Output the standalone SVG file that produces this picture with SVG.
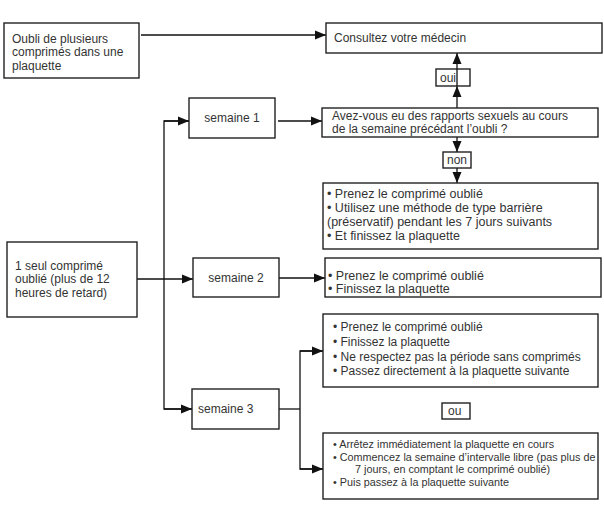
<svg xmlns="http://www.w3.org/2000/svg" width="604" height="520" viewBox="0 0 604 520">
<defs>
<marker id="ah" markerUnits="userSpaceOnUse" markerWidth="12" markerHeight="10" refX="11" refY="5" orient="auto">
<path d="M0,0.5 L11,5 L0,9.5 Z" fill="#111"/>
</marker>
<style>
rect.b{fill:#fff;stroke:#222;stroke-width:1.4}
text{font-family:"Liberation Sans",Arial,sans-serif;fill:#333;font-size:12px}
.s{font-size:10.8px}
.m{font-size:12.5px}
.c{text-anchor:middle}
.l{fill:none;stroke:#111;stroke-width:1.3}
</style>
</defs>
<rect width="604" height="520" fill="#fff"/>
<g id="connectors">
<line class="l" x1="141" y1="35" x2="326" y2="35" marker-end="url(#ah)"/>
<line class="l" x1="457" y1="108" x2="457" y2="86" marker-end="url(#ah)"/>
<line class="l" x1="457" y1="86" x2="457" y2="53" marker-end="url(#ah)"/>
<line class="l" x1="278" y1="121" x2="322" y2="121" marker-end="url(#ah)"/>
<line class="l" x1="457" y1="137" x2="457" y2="152" marker-end="url(#ah)"/>
<line class="l" x1="457" y1="168" x2="457" y2="183" marker-end="url(#ah)"/>
<line class="l" x1="137" y1="279" x2="193" y2="279" marker-end="url(#ah)"/>
<line class="l" x1="279" y1="278" x2="325" y2="278" marker-end="url(#ah)"/>
<polyline class="l" points="189,121 164,121 164,409 192,409"/>
<line class="l" x1="164" y1="121" x2="189" y2="121" marker-end="url(#ah)"/>
<line class="l" x1="164" y1="409" x2="192" y2="409" marker-end="url(#ah)"/>
<polyline class="l" points="279,409 300,409"/>
<polyline class="l" points="323,351 300,351 300,469 323,469"/>
<line class="l" x1="300" y1="351" x2="323" y2="351" marker-end="url(#ah)"/>
<line class="l" x1="300" y1="469" x2="323" y2="469" marker-end="url(#ah)"/>
</g>
<g id="oubli-plusieurs">
<rect class="b" x="4" y="23" width="135" height="55"/>
<text x="12" y="43">Oubli de plusieurs</text>
<text x="12" y="56">comprimés dans une</text>
<text x="12" y="70">plaquette</text>
</g>
<g id="consultez">
<rect class="b" x="326" y="23" width="276" height="30"/>
<text x="334" y="42">Consultez votre médecin</text>
</g>
<g id="oui">
<rect class="b" x="436" y="69" width="34" height="17"/>
<line class="l" x1="457" y1="69" x2="457" y2="86"/>
<text x="440" y="82">oui</text>
</g>
<g id="question">
<rect class="b" x="322" y="108" width="276" height="29"/>
<text x="332" y="120">Avez-vous eu des rapports sexuels au cours</text>
<text x="332" y="133">de la semaine précédant l’oubli ?</text>
</g>
<g id="non">
<rect class="b" x="443" y="152" width="28" height="16"/>
<text x="447" y="164">non</text>
</g>
<g id="action-semaine1">
<rect class="b" x="323" y="183" width="275" height="66"/>
<text class="m" x="327" y="198">• Prenez le comprimé oublié</text>
<text class="m" x="327" y="212">• Utilisez une méthode de type barrière</text>
<text class="m" x="327" y="226">(préservatif) pendant les 7 jours suivants</text>
<text class="m" x="327" y="240">• Et finissez la plaquette</text>
</g>
<g id="semaine1">
<rect class="b" x="189" y="98" width="86" height="40"/>
<text class="c" x="232" y="122">semaine 1</text>
</g>
<g id="un-seul">
<rect class="b" x="7" y="242" width="130" height="75"/>
<text x="15" y="270">1 seul comprimé</text>
<text x="15" y="283">oublié (plus de 12</text>
<text x="15" y="297">heures de retard)</text>
</g>
<g id="semaine2">
<rect class="b" x="193" y="258" width="86" height="39"/>
<text class="c" x="236" y="282">semaine 2</text>
</g>
<g id="action-semaine2">
<rect class="b" x="325" y="258" width="276" height="39"/>
<text class="m" x="328" y="280">• Prenez le comprimé oublié</text>
<text class="m" x="328" y="293">• Finissez la plaquette</text>
</g>
<g id="semaine3">
<rect class="b" x="192" y="389" width="87" height="40"/>
<text x="198" y="413">semaine 3</text>
</g>
<g id="action-semaine3a">
<rect class="b" x="323" y="314" width="275" height="73"/>
<text x="333" y="331">• Prenez le comprimé oublié</text>
<text x="333" y="346">• Finissez la plaquette</text>
<text x="333" y="361">• Ne respectez pas la période sans comprimés</text>
<text x="333" y="375">• Passez directement à la plaquette suivante</text>
</g>
<g id="ou">
<rect class="b" x="442" y="403" width="28" height="16"/>
<text x="448" y="415">ou</text>
</g>
<g id="action-semaine3b">
<rect class="b" x="323" y="433" width="275" height="66"/>
<text class="s" x="333" y="448">• Arrêtez immédiatement la plaquette en cours</text>
<text class="s" x="333" y="461">• Commencez la semaine d’intervalle libre (pas plus de</text>
<text class="s" x="355" y="473">7 jours, en comptant le comprimé oublié)</text>
<text class="s" x="333" y="486">• Puis passez à la plaquette suivante</text>
</g>
</svg>
